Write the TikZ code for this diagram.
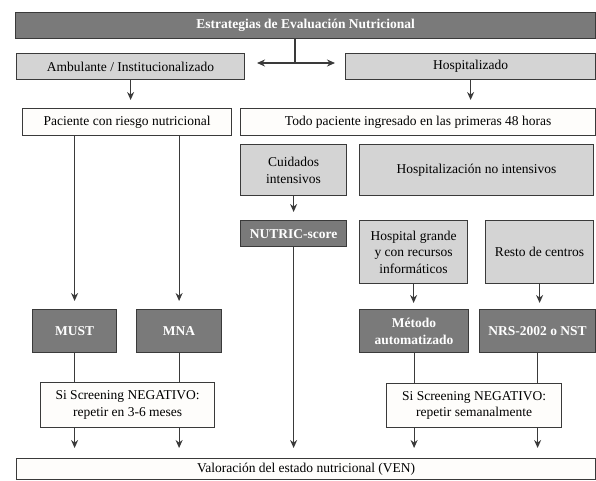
\documentclass[tikz,border=0pt]{standalone}
\usepackage{fontspec}
\setmainfont{Liberation Serif}
\definecolor{boxdark}{HTML}{7A7A7A}
\definecolor{boxlight}{HTML}{D4D4D4}
\definecolor{boxwhite}{HTML}{FEFDFB}
\definecolor{edge}{HTML}{3A3A3A}
\usetikzlibrary{arrows.meta}
\tikzset{
  box_base/.style={draw=edge,line width=1.2pt,anchor=north west,inner sep=2pt,
    align=center,font=\fontsize{13.5}{16.7}\selectfont},
  node_dark/.style={box_base,fill=boxdark,text=white,
    font=\fontsize{13.5}{16.7}\selectfont\bfseries},
  node_light/.style={box_base,fill=boxlight},
  node_white/.style={box_base,fill=boxwhite},
  arr/.style={-{Stealth[length=8pt,width=7pt]},draw=edge,line width=1.2pt},
  link/.style={draw=edge,line width=1.2pt},
}

\begin{document}
\begin{tikzpicture}[x=1pt,y=-1pt]
  \useasboundingbox (0,0) rectangle (596,480);

  % top level
  \node[node_dark,minimum width=580pt,minimum height=26pt] (title) at (15,12) {Estrategias de Evaluación Nutricional};
  \node[node_light,minimum width=228pt,minimum height=26pt] (amb) at (16,53) {Ambulante / Institucionalizado};
  \node[node_light,minimum width=250pt,minimum height=26pt] (hosp) at (345,53) {Hospitalizado};

  \coordinate (split) at (295,63);
  \coordinate (split_l) at (257,63);
  \coordinate (split_r) at (335,63);
  \draw[link] (title.south -| split) -- (split);
  \draw[arr] (split) -- (split_l);
  \draw[arr] (split) -- (split_r);

  % who gets screened
  \node[node_white,minimum width=209pt,minimum height=27pt] (pac) at (22,108) {Paciente con riesgo nutricional};
  \node[node_white,minimum width=355pt,minimum height=27pt] (todo) at (240,108) {Todo paciente ingresado en las primeras 48 horas};
  \node[node_light,minimum width=106pt,minimum height=51pt] (cuid) at (240,144) {Cuidados\\intensivos};
  \node[node_light,minimum width=234pt,minimum height=51pt] (hni) at (359,144) {Hospitalización no intensivos};
  \node[node_dark,minimum width=106pt,minimum height=26pt] (nutric) at (240,220) {NUTRIC-score};
  \node[node_light,minimum width=108pt,minimum height=63pt] (hgr) at (359,220) {Hospital grande\\y con recursos\\informáticos};
  \node[node_light,minimum width=108pt,minimum height=63pt] (resto) at (485,220) {Resto de centros};

  \draw[arr,shorten >=8pt] (amb.south) -- (amb.south |- pac.north);
  \draw[arr,shorten >=8pt] (hosp.south) -- (hosp.south |- todo.north);

  % screening tools
  \node[node_dark,minimum width=84pt,minimum height=43pt] (must) at (32,309) {MUST};
  \node[node_dark,minimum width=85pt,minimum height=43pt] (mna) at (136,309) {MNA};
  \node[node_dark,minimum width=109pt,minimum height=43pt] (metodo) at (359,309) {Método\\automatizado};
  \node[node_dark,minimum width=116pt,minimum height=43pt] (nrs) at (479,309) {NRS-2002 o NST};

  \draw[arr,shorten >=8pt] (pac.south -| must) -- (must.north);
  \draw[arr,shorten >=8pt] (pac.south -| mna) -- (mna.north);
  \draw[arr,shorten >=8pt] (cuid.south) -- (cuid.south |- nutric.north);
  \draw[arr,shorten >=6pt] (hgr.south) -- (hgr.south |- metodo.north);
  \draw[arr,shorten >=6pt] (resto.south) -- (resto.south |- nrs.north);

  % negative screening
  \node[node_white,minimum width=174pt,minimum height=45pt] (neg_a) at (40,382) {Si Screening NEGATIVO:\\repetir en 3-6 meses};
  \node[node_white,minimum width=175pt,minimum height=44pt] (neg_h) at (386,383) {Si Screening NEGATIVO:\\repetir semanalmente};
  \node[node_white,minimum width=579pt,minimum height=21pt] (ven) at (16,458) {Valoración del estado nutricional (VEN)};

  \foreach \src in {must,mna}
    \draw[link] (\src) -- (\src |- neg_a.north);
  \foreach \src in {metodo,nrs}
    \draw[link] (\src) -- (\src |- neg_h.north);

  \foreach \src in {must,mna}
    \draw[arr,shorten >=10pt] (neg_a.south -| \src) -- (\src |- ven.north);
  \foreach \src in {metodo,nrs}
    \draw[arr,shorten >=10pt] (neg_h.south -| \src) -- (\src |- ven.north);
  \draw[arr,shorten >=10pt] (nutric) -- (nutric |- ven.north);
\end{tikzpicture}
\end{document}
